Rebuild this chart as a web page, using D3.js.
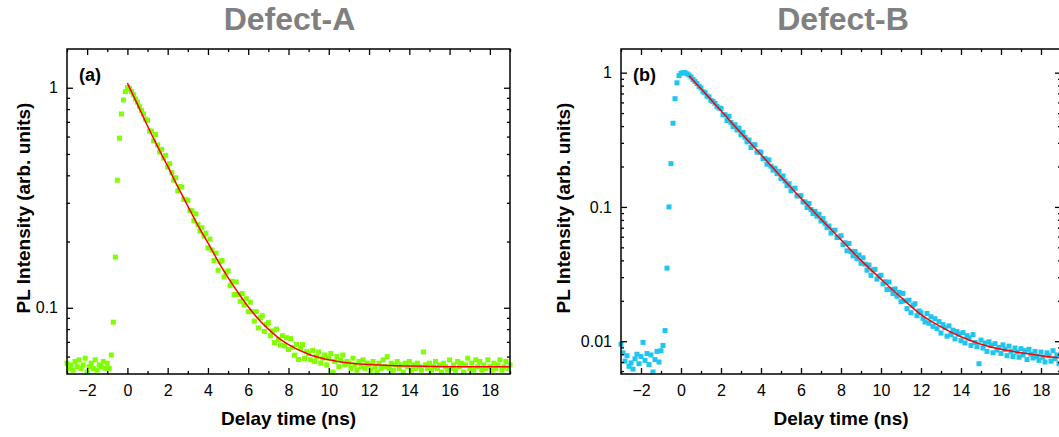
<!DOCTYPE html>
<html>
<head>
<meta charset="utf-8">
<script src="https://cdn.jsdelivr.net/npm/d3@7"></script>
<style>
    body { margin: 0; background: #fff; }
    svg { display: block; font-family: "Liberation Sans", Arial, sans-serif; }
</style>
</head>
<body>
<div id="graph_decay"></div>
<script>
// time bins (ns)
const delayStart = -3;
const delayStep = 0.1;

// Defect-A, normalised PL counts, one value per bin from -3 to 19 ns
const pointsA = [
    0.056, 0.053, 0.055, 0.052, 0.057, 0.054, 0.058, 0.053, 0.055, 0.059,
    0.051, 0.054, 0.056, 0.053, 0.058, 0.052, 0.055, 0.054, 0.057, 0.053,
    0.056, 0.053, 0.061, 0.086, 0.17, 0.38, 0.59, 0.76, 0.88, 0.96,
    1.0, 0.99, 0.96, 0.93, 0.89, 0.86, 0.82, 0.79, 0.76, 0.72,
    0.711, 0.636, 0.635, 0.573, 0.613, 0.549, 0.510, 0.525, 0.479, 0.493,
    0.435, 0.452, 0.412, 0.380, 0.390, 0.340, 0.355, 0.354, 0.311, 0.310,
    0.308, 0.276, 0.276, 0.249, 0.267, 0.239, 0.223, 0.231, 0.212, 0.218,
    0.187, 0.205, 0.183, 0.164, 0.177, 0.148, 0.162, 0.164, 0.138, 0.145,
    0.147, 0.126, 0.132, 0.115, 0.131, 0.115, 0.107, 0.116, 0.103, 0.110,
    0.096, 0.106, 0.096, 0.087, 0.096, 0.081, 0.090, 0.092, 0.078, 0.084,
    0.0856, 0.0746, 0.0785, 0.0695, 0.0799, 0.0715, 0.0677, 0.0746, 0.0672, 0.0731,
    0.0646, 0.0724, 0.066, 0.0609, 0.0683, 0.0582, 0.0654, 0.068, 0.0588, 0.0632,
    0.062, 0.058, 0.064, 0.057, 0.060, 0.063, 0.056, 0.059, 0.061, 0.055,
    0.059, 0.062, 0.051, 0.057, 0.060, 0.054, 0.058, 0.061, 0.055, 0.057,
    0.056, 0.053, 0.059, 0.055, 0.052, 0.057, 0.054, 0.058, 0.053, 0.056,
    0.055, 0.052, 0.057, 0.054, 0.051, 0.056, 0.053, 0.058, 0.054, 0.060,
    0.053, 0.056, 0.052, 0.055, 0.057, 0.053, 0.055, 0.051, 0.056, 0.054,
    0.057, 0.052, 0.055, 0.053, 0.056, 0.054, 0.052, 0.063, 0.055, 0.053,
    0.056, 0.052, 0.054, 0.057, 0.053, 0.055, 0.051, 0.056, 0.054, 0.052,
    0.058, 0.053, 0.055, 0.052, 0.057, 0.054, 0.056, 0.051, 0.055, 0.059,
    0.053, 0.056, 0.052, 0.058, 0.054, 0.057, 0.052, 0.055, 0.053, 0.058,
    0.054, 0.052, 0.056, 0.053, 0.055, 0.058, 0.052, 0.054, 0.057, 0.053,
    0.055
];

// Defect-B
const pointsB = [
    0.0095, 0.0082, 0.0071, 0.0078, 0.0065, 0.0069, 0.0062, 0.0074, 0.0080, 0.0068,
    0.0077, 0.0098, 0.0072, 0.0081, 0.0067, 0.0079, 0.0059, 0.0073, 0.0084, 0.0070,
    0.0085, 0.0093, 0.012, 0.035, 0.10, 0.21, 0.42, 0.64, 0.84, 0.95,
    0.99, 1.0, 1.0, 0.98, 0.96, 0.93, 0.89, 0.86, 0.83, 0.79,
    0.77, 0.72, 0.71, 0.67, 0.66, 0.62, 0.61, 0.59, 0.56, 0.545,
    0.541, 0.485, 0.486, 0.440, 0.473, 0.425, 0.396, 0.409, 0.374, 0.386,
    0.344, 0.359, 0.330, 0.305, 0.315, 0.277, 0.290, 0.290, 0.256, 0.257,
    0.255, 0.229, 0.229, 0.208, 0.224, 0.201, 0.188, 0.194, 0.177, 0.184,
    0.163, 0.170, 0.156, 0.144, 0.149, 0.132, 0.137, 0.138, 0.121, 0.121,
    0.121, 0.109, 0.109, 0.099, 0.106, 0.0956, 0.0893, 0.0927, 0.0853, 0.0882,
    0.0786, 0.0819, 0.0755, 0.0701, 0.0721, 0.0639, 0.0669, 0.0671, 0.0592, 0.0596,
    0.061, 0.0523, 0.0541, 0.0471, 0.0534, 0.0467, 0.0432, 0.0466, 0.0412, 0.0439,
    0.038, 0.0418, 0.0375, 0.0338, 0.0369, 0.0309, 0.0339, 0.0343, 0.029, 0.0304,
    0.031, 0.0267, 0.0277, 0.0243, 0.0276, 0.0243, 0.0226, 0.0245, 0.0216, 0.0231,
    0.0197, 0.0227, 0.020, 0.0175, 0.0202, 0.0163, 0.0185, 0.019, 0.0155, 0.0168,
    0.0163, 0.0148, 0.0139, 0.0161, 0.0136, 0.0152, 0.0129, 0.0147, 0.0124, 0.0140,
    0.0115, 0.0133, 0.0126, 0.0109, 0.0130, 0.0112, 0.0121, 0.0104, 0.0118, 0.0113,
    0.0101, 0.0116, 0.0097, 0.0110, 0.0106, 0.0093, 0.0112, 0.0098, 0.0091, 0.0068,
    0.0102, 0.0089, 0.0097, 0.0084, 0.0099, 0.0093, 0.0082, 0.0096, 0.0086, 0.0090,
    0.0081, 0.0094, 0.0087, 0.0078, 0.0092, 0.0084, 0.0077, 0.0089, 0.0083, 0.0076,
    0.0088, 0.0079, 0.0085, 0.0073, 0.0087, 0.0080, 0.0075, 0.0084, 0.0077, 0.0072,
    0.0083, 0.0076, 0.0070, 0.0082, 0.0078, 0.0071, 0.0085, 0.0074, 0.0079, 0.0068,
    0.0079
];

// fitted decay curves (red)
const fitTimesA = [0, 0.5, 1, 1.5, 2, 2.5, 3, 3.5, 4, 4.5, 5, 5.5, 6, 6.5, 7, 7.5, 8, 9, 10, 11, 12, 13, 14, 16, 19];
const fitValuesA = [1.05, 0.84, 0.67, 0.54, 0.44, 0.355, 0.29, 0.237, 0.197, 0.163, 0.137, 0.117, 0.101, 0.089, 0.080, 0.073, 0.068, 0.0615, 0.058, 0.0561, 0.0552, 0.0546, 0.0543, 0.054, 0.0539];
const fitTimesB = [0.4, 1, 2, 3, 4, 5, 6, 7, 8, 9, 10, 11, 12, 13, 14, 15, 16, 17, 18, 19];
const fitValuesB = [0.95, 0.76, 0.52, 0.355, 0.245, 0.168, 0.116, 0.081, 0.057, 0.040, 0.029, 0.0212, 0.0158, 0.0128, 0.0108, 0.0095, 0.0087, 0.0082, 0.0078, 0.0075];

// ticks
const xDomain = [-3, 19];
const xTicks = [-2, 0, 2, 4, 6, 8, 10, 12, 14, 16, 18];
const xMinorTicks = [-3, -1, 1, 3, 5, 7, 9, 11, 13, 15, 17, 19];
const yTicksA = [0.1, 1];
const yMinorA = [0.06, 0.07, 0.08, 0.09, 0.2, 0.3, 0.4, 0.5, 0.6, 0.7, 0.8, 0.9];
const yTicksB = [0.01, 0.1, 1];
const yMinorB = [0.006, 0.007, 0.008, 0.009, 0.02, 0.03, 0.04, 0.05, 0.06, 0.07, 0.08, 0.09,
    0.2, 0.3, 0.4, 0.5, 0.6, 0.7, 0.8, 0.9];

const titles = ["Defect-A", "Defect-B"];
const tags = ["(a)", "(b)"];
const xTitle = "Delay time (ns)";
const yTitle = "PL Intensity (arb. units)";


const svg = d3.select("#graph_decay")
    .append("svg")
    .attr("width", 1059)
    .attr("height", 437);


function drawPanel(opt) {
    const left = opt.left, right = opt.right, top = 49, bottom = 374;

    var x = d3.scaleLinear()
        .domain(xDomain)
        .range([left, right]);

    var y = d3.scaleLog()
        .domain(opt.yDomain)
        .range([bottom, top]);

    const g = svg.append("g");

    // title
    g.append("text")
        .attr("x", (left + right) / 2 + opt.titleShift)
        .attr("y", 30)
        .attr("text-anchor", "middle")
        .style("font-size", "32px")
        .style("font-weight", "bold")
        .attr("fill", "#808080")
        .text(opt.title);

    // data points
    const pts = opt.points.map((v, i) => ({ t: delayStart + i * delayStep, v: v }));
    g.append("g")
        .selectAll("rect")
        .data(pts)
        .enter()
        .append("rect")
        .attr("x", d => x(d.t) - 2.5)
        .attr("y", d => y(d.v) - 2.5)
        .attr("width", 5)
        .attr("height", 5)
        .attr("fill", opt.color);

    // fit line
    const fit = opt.fitTimes.map((t, i) => [t, opt.fitValues[i]]);
    g.append("path")
        .datum(fit)
        .attr("fill", "none")
        .attr("stroke", "#ff0000")
        .attr("stroke-width", 1.5)
        .attr("d", d3.line()
            .x(d => x(d[0]))
            .y(d => y(d[1]))
            .curve(d3.curveMonotoneX));

    // Add X axes (ticks pointing in)
    g.append("g")
        .attr("transform", "translate(0," + bottom + ")")
        .call(d3.axisBottom(x).tickValues(xTicks).tickSizeInner(-6).tickSizeOuter(0).tickPadding(11).tickFormat(d3.format("d")))
        .call(s => s.select(".domain").remove())
        .selectAll("text")
        .style("font-size", "16px")
        .attr("fill", "#000");

    g.append("g")
        .attr("transform", "translate(0," + bottom + ")")
        .call(d3.axisBottom(x).tickValues(xMinorTicks).tickSizeInner(-3).tickSizeOuter(0).tickFormat(""))
        .call(s => s.select(".domain").remove());

    g.append("g")
        .attr("transform", "translate(0," + top + ")")
        .call(d3.axisTop(x).tickValues(xTicks).tickSizeInner(-6).tickSizeOuter(0).tickFormat(""))
        .call(s => s.select(".domain").remove());

    g.append("g")
        .attr("transform", "translate(0," + top + ")")
        .call(d3.axisTop(x).tickValues(xMinorTicks).tickSizeInner(-3).tickSizeOuter(0).tickFormat(""))
        .call(s => s.select(".domain").remove());

    // Add Y axes
    g.append("g")
        .attr("transform", "translate(" + left + ",0)")
        .call(d3.axisLeft(y).tickValues(opt.yTicks).tickSizeInner(-6).tickSizeOuter(0).tickPadding(9).tickFormat(d => String(d)))
        .call(s => s.select(".domain").remove())
        .selectAll("text")
        .style("font-size", "16px")
        .attr("fill", "#000");

    g.append("g")
        .attr("transform", "translate(" + left + ",0)")
        .call(d3.axisLeft(y).tickValues(opt.yMinor).tickSizeInner(-3).tickSizeOuter(0).tickFormat(""))
        .call(s => s.select(".domain").remove());

    g.append("g")
        .attr("transform", "translate(" + right + ",0)")
        .call(d3.axisRight(y).tickValues(opt.yTicks).tickSizeInner(-6).tickSizeOuter(0).tickFormat(""))
        .call(s => s.select(".domain").remove());

    g.append("g")
        .attr("transform", "translate(" + right + ",0)")
        .call(d3.axisRight(y).tickValues(opt.yMinor).tickSizeInner(-3).tickSizeOuter(0).tickFormat(""))
        .call(s => s.select(".domain").remove());

    g.selectAll(".tick line")
        .attr("stroke", "#000")
        .attr("stroke-width", 1.3);

    // frame
    g.append("rect")
        .attr("x", left)
        .attr("y", top)
        .attr("width", right - left)
        .attr("height", bottom - top)
        .attr("fill", "none")
        .attr("stroke", "#000")
        .attr("stroke-width", 1.5);

    // panel tag
    g.append("text")
        .attr("x", left + 12)
        .attr("y", 81)
        .style("font-size", "18px")
        .style("font-weight", "bold")
        .text(opt.tag);

    // axis titles
    g.append("text")
        .attr("x", (left + right) / 2)
        .attr("y", 425)
        .attr("text-anchor", "middle")
        .style("font-size", "19px")
        .style("font-weight", "bold")
        .text(xTitle);

    g.append("text")
        .attr("transform", "translate(" + opt.yTitleX + ",208) rotate(-90)")
        .attr("text-anchor", "middle")
        .style("font-size", "19px")
        .style("font-weight", "bold")
        .text(yTitle);
}

drawPanel({
    left: 67, right: 510, yDomain: [0.05, 1.5], titleShift: 1,
    title: titles[0], tag: tags[0], color: "#7fff00",
    points: pointsA, fitTimes: fitTimesA, fitValues: fitValuesA,
    yTicks: yTicksA, yMinor: yMinorA, yTitleX: 30
});

drawPanel({
    left: 621, right: 1061, yDomain: [0.0057, 1.5], titleShift: 2,
    title: titles[1], tag: tags[1], color: "#1ec6ef",
    points: pointsB, fitTimes: fitTimesB, fitValues: fitValuesB,
    yTicks: yTicksB, yMinor: yMinorB, yTitleX: 570
});
</script>
</body>
</html>
